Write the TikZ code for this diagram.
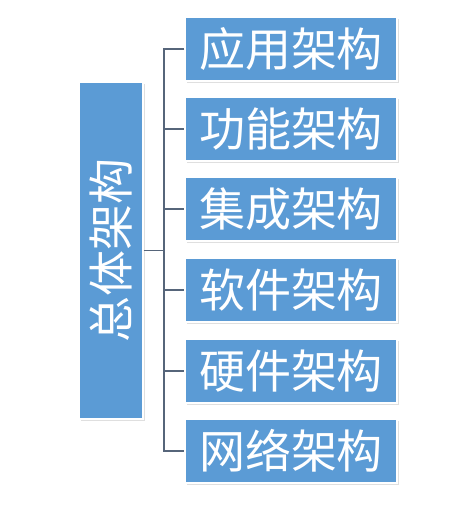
\documentclass[tikz,border=0pt]{standalone}
\usepackage{fontspec}
\newfontfamily\cjk{Noto Sans CJK SC}
\usetikzlibrary{shadows}
\definecolor{boxblue}{HTML}{5B9BD5}
\definecolor{linegray}{HTML}{56657A}
\tikzset{
  x=1pt, y=-1pt,
  bigtext/.style={font=\cjk\fontsize{46}{46}\selectfont},
  archbox/.style={draw=white, line width=1.2pt, fill=boxblue, text=white,
    minimum width=212pt, minimum height=64pt, inner sep=0pt,
    drop shadow={shadow xshift=1.5pt, shadow yshift=-1.5pt, opacity=0.25},
    bigtext},
  mainbox/.style={draw=white, line width=1.2pt, fill=boxblue, text=white,
    minimum width=64pt, minimum height=337pt, inner sep=0pt,
    drop shadow={shadow xshift=1.5pt, shadow yshift=-1.5pt, opacity=0.25}},
  conn/.style={draw=linegray, line width=1.5pt}
}
\begin{document}
\begin{tikzpicture}
\useasboundingbox (0,0) rectangle (474,515);
\fill[white] (0,0) rectangle (474,515);
\node[mainbox] (main) at (111,250.5) {};
\node[text=white, rotate=90, bigtext] (maintext) at (111,250.5) {总体架构};
\node[archbox] (b1) at (291,49) {应用架构};
\node[archbox] (b2) at (291,129) {功能架构};
\node[archbox] (b3) at (291,209) {集成架构};
\node[archbox] (b4) at (291,290) {软件架构};
\node[archbox] (b5) at (291,371) {硬件架构};
\node[archbox] (b6) at (291,451) {网络架构};
\coordinate (bus) at (164,250.5);
\draw[conn] (main.east) -- (bus);
\draw[conn] (b1.west) -| (bus) |- (b6.west);
\draw[conn] (bus |- b2.west) -- (b2.west);
\draw[conn] (bus |- b3.west) -- (b3.west);
\draw[conn] (bus |- b4.west) -- (b4.west);
\draw[conn] (bus |- b5.west) -- (b5.west);
\end{tikzpicture}
\end{document}
